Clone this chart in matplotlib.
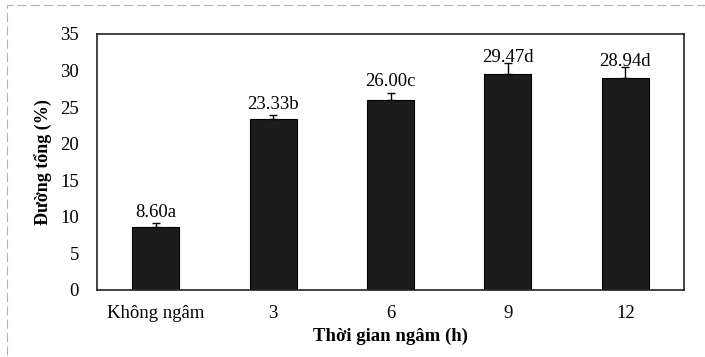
import numpy as np
import matplotlib.pyplot as plt
from matplotlib.patches import Rectangle

categories = ["Không ngâm", "3", "6", "9", "12"]
values = [8.60, 23.33, 26.00, 29.47, 28.94]
errors = [0.6, 0.6, 1.0, 1.6, 1.6]
letters = ["a", "b", "c", "d", "d"]

plt.rcParams['font.family'] = ['Liberation Serif', 'DejaVu Serif']

fig = plt.figure(figsize=(7.05, 3.57), dpi=100)
ax = fig.add_axes([97/705, 1 - 290/357, (684-97)/705, (290-34)/357])

x = np.arange(len(categories))
ax.bar(x, values, width=0.4, color='#1c1c1c', edgecolor='black', linewidth=0.8, zorder=2)
ax.errorbar(x, values, yerr=[np.zeros(len(errors)), errors], fmt='none',
            ecolor='black', elinewidth=1.0, capsize=3, capthick=1.0, zorder=3)

for xi, v, e, l in zip(x, values, errors, letters):
    ax.text(xi, v + e - 0.4 if e > 1 else v + e + 0.3, f"{v:.2f}{l}",
            ha='center', va='bottom', fontsize=13.5)

ax.set_xlim(-0.5, len(categories) - 0.5)
ax.set_ylim(0, 35)
ax.set_yticks(range(0, 36, 5))
ax.set_xticks(x)
ax.set_xticklabels(categories)
ax.tick_params(axis='both', length=0, labelsize=13.5)
ax.tick_params(axis='y', pad=13)
ax.tick_params(axis='x', pad=11)
for s in ax.spines.values():
    s.set_linewidth(1.2)
    s.set_color('#222222')

ax.set_ylabel("Đường tổng (%)", fontsize=13, fontweight='bold', labelpad=5)
ax.set_xlabel("Thời gian ngâm (h)", fontsize=13.5, fontweight='bold', labelpad=4)

# faint outer chart border from the scan
fig.patches.append(Rectangle((7/705, -0.05), 1.05, 1 - 5/357 + 0.05,
                             transform=fig.transFigure, fill=False,
                             edgecolor='#b0b0b0', linewidth=0.8,
                             linestyle=(0, (8, 4))))

fig.savefig("out.png", dpi=100)
